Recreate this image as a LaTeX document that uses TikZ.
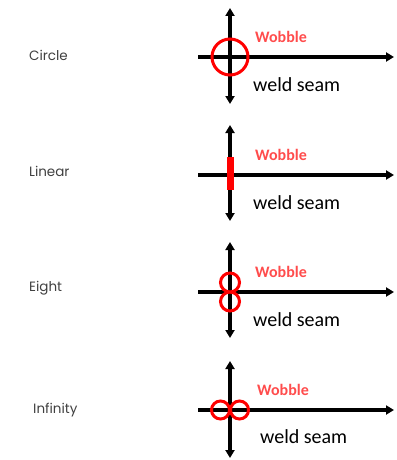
\documentclass[tikz,border=0pt]{standalone}
\usepackage{fontspec}
\setmainfont{Carlito}
\newfontfamily\labfont{Poppins}
\usetikzlibrary{arrows.meta}
\tikzset{
  axis/.style={line width=3.2pt, black, {Triangle[length=8pt,width=9pt]}-{Triangle[length=8pt,width=9pt]}},
  haxis/.style={line width=3.2pt, black, -{Triangle[length=8pt,width=9pt]}},
  wob/.style={draw=red, line width=3pt},
  wobtxt/.style={text=red!70!white, font=\fontsize{16}{18}\selectfont\bfseries, anchor=west, inner sep=0pt},
  seam/.style={font=\fontsize{20}{22}\selectfont, anchor=west, inner sep=0pt},
  lab/.style={text=black!75, font=\labfont\fontsize{13.5}{15}\selectfont, anchor=west, inner sep=0pt}
}
\begin{document}
\begin{tikzpicture}[x=1pt,y=-1pt]
\useasboundingbox (0,0) rectangle (396,460);
% Panel 1: Circle
\node[lab] (l1) at (29,55) {Circle};
\coordinate (v1t) at (230,8); \coordinate (v1b) at (230,104);
\coordinate (h1l) at (198,57); \coordinate (h1r) at (394,57);
\draw[haxis] (h1l) -- (h1r);
\draw[axis] (v1t) -- (v1b);
\node[wob, circle, minimum size=36pt, inner sep=0pt] (c1) at (230,57) {};
\node[wobtxt] (w1) at (255,37) {Wobble};
\node[seam] (s1) at (253,85) {weld seam};
% Panel 2: Linear
\node[lab] (l2) at (29,171) {Linear};
\coordinate (v2t) at (230,125); \coordinate (v2b) at (230,221);
\coordinate (h2l) at (198,175); \coordinate (h2r) at (394,175);
\draw[haxis] (h2l) -- (h2r);
\draw[axis] (v2t) -- (v2b);
\node[fill=red, minimum width=7pt, minimum height=33pt, inner sep=0pt] (r2) at (230.5,173.5) {};
\node[wobtxt] (w2) at (255,155) {Wobble};
\node[seam] (s2) at (253,203) {weld seam};
% Panel 3: Eight
\node[lab] (l3) at (29,288) {Eight};
\coordinate (v3t) at (230,242); \coordinate (v3b) at (230,338);
\coordinate (h3l) at (198,292); \coordinate (h3r) at (394,292);
\draw[haxis] (h3l) -- (h3r);
\draw[axis] (v3t) -- (v3b);
\node[wob, circle, minimum size=19pt, inner sep=0pt] (e3a) at (230,282.5) {};
\node[wob, circle, minimum size=19pt, inner sep=0pt] (e3b) at (230,301.5) {};
\node[wobtxt] (w3) at (255,272) {Wobble};
\node[seam] (s3) at (253,320) {weld seam};
% Panel 4: Infinity
\node[lab] (l4) at (33,410) {Infinity};
\coordinate (v4t) at (230,361); \coordinate (v4b) at (230,458);
\coordinate (h4l) at (198,410); \coordinate (h4r) at (394,410);
\draw[haxis] (h4l) -- (h4r);
\draw[axis] (v4t) -- (v4b);
\node[wob, circle, minimum size=18pt, inner sep=0pt] (i4a) at (220.5,410) {};
\node[wob, circle, minimum size=18pt, inner sep=0pt] (i4b) at (239.5,410) {};
\node[wobtxt] (w4) at (257,390) {Wobble};
\node[seam] (s4) at (260,437) {weld seam};
\end{tikzpicture}
\end{document}
